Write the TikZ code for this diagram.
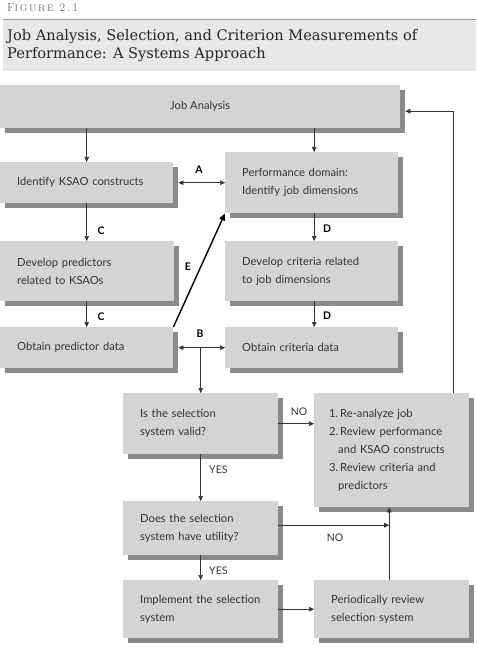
\documentclass[tikz,border=0pt]{standalone}
\usepackage{fontspec}
\newfontfamily\boxfont{Lato}
\newfontfamily\titlefont{DejaVu Serif}
\newfontfamily\figfont[LetterSpace=18]{Latin Modern Roman}
\usetikzlibrary{arrows.meta,shadows,calc}
\definecolor{boxgray}{HTML}{D4D4D4}
\definecolor{shadowgray}{HTML}{8A8A8A}
\definecolor{bandgray}{HTML}{E8E8E8}
\definecolor{linegray}{HTML}{333333}
\definecolor{figgray}{HTML}{6E6E6E}
\begin{document}
\begin{tikzpicture}[x=1pt,y=-1pt,
  box/.style={fill=boxgray, draw=none, anchor=north west, inner xsep=17pt, inner ysep=0pt,
    align=left, text=linegray, font=\boxfont\fontsize{11.2}{18}\selectfont,
    general shadow={fill=shadowgray, shadow xshift=5pt, shadow yshift=-5pt}},
  arr/.style={draw=linegray, line width=0.6pt, -{Triangle[length=5pt,width=4.5pt]}},
  darr/.style={draw=linegray, line width=0.6pt, {Triangle[length=5pt,width=4.5pt]}-{Triangle[length=5pt,width=4.5pt]}},
  lbl/.style={font=\boxfont\bfseries\fontsize{10.5}{12}\selectfont, text=black, inner sep=0pt},
  yn/.style={font=\boxfont\fontsize{10.5}{12}\selectfont, text=linegray, inner sep=0pt}
]
\useasboundingbox (0,0) rectangle (476,647);
% header
\node[anchor=base west, inner sep=0pt, text=figgray, font=\figfont] (fig) at (7,12)
  {\fontsize{11.5}{13}\selectfont F\fontsize{9.5}{13}\selectfont IGURE\fontsize{11.5}{13}\selectfont\ 2.1};
\draw[draw=figgray!70, line width=0.8pt] (3,19.5) -- (476,19.5);
\fill[bandgray] (3,20.5) rectangle (476,71);
\node[anchor=north west, inner sep=0pt, align=left, text=black!85, font=\titlefont\fontsize{14.6}{17.5}\selectfont] (title) at (7,29.5)
  {Job Analysis, Selection, and Criterion Measurements of\\Performance: A Systems Approach};
% boxes
\node[box, minimum width=400pt, minimum height=43pt, align=center] (ja) at (0,85) {Job Analysis};
\node[box, minimum width=173pt, minimum height=41pt, text width=139pt] (ksao) at (0,162) {Identify KSAO constructs};
\node[box, minimum width=173pt, minimum height=61pt, text width=139pt] (perf) at (225,152) {Performance domain:\\Identify job dimensions};
\node[box, minimum width=174pt, minimum height=60pt, text width=140pt] (devp) at (0,241) {Develop predictors\\related to KSAOs};
\node[box, minimum width=173pt, minimum height=60pt, text width=139pt] (devc) at (225,241) {Develop criteria related\\to job dimensions};
\node[box, minimum width=173pt, minimum height=41pt, text width=139pt] (obtp) at (0,327) {Obtain predictor data};
\node[box, minimum width=173pt, minimum height=41pt, text width=139pt] (obtc) at (225,327) {Obtain criteria data};
\node[box, minimum width=155pt, minimum height=61pt, text width=121pt] (valid) at (123,393) {Is the selection\\system valid?};
\node[box, minimum width=155pt, minimum height=114pt, text width=125pt, inner xsep=15pt] (fix) at (314,393)
  {1.\,Re-analyze job\\
   2.\,Review performance\\\hspace*{9pt}and KSAO constructs\\
   3.\,Review criteria and\\\hspace*{9pt}predictors};
\node[box, minimum width=155pt, minimum height=54pt, text width=121pt] (util) at (123,501) {Does the selection\\system have utility?};
\node[box, minimum width=155pt, minimum height=58pt, text width=121pt] (impl) at (123,580) {Implement the selection\\system};
\node[box, minimum width=155pt, minimum height=58pt, text width=121pt] (peri) at (314,580) {Periodically review\\selection system};
% connectors
\draw[arr] (ja.south -| ksao.north) -- (ksao.north);
\draw[arr] ([xshift=2.5pt]ja.south -| perf.north) -- ([xshift=2.5pt]perf.north);
\draw[darr] ([xshift=5pt]ksao.east) -- (ksao.east -| perf.west);
\node[lbl] (la) at (199,170) {A};
\draw[arr] (ksao.south) -- (devp.north -| ksao.south);
\node[lbl] (lc1) at (101,231) {C};
\draw[arr] (devp.south -| ksao.south) -- (obtp.north);
\node[lbl] (lc2) at (101,317) {C};
\draw[arr] ([xshift=2.5pt]perf.south) -- ([xshift=2.5pt]devc.north);
\node[lbl] (ld1) at (327,229) {D};
\draw[arr] ([xshift=2.5pt]devc.south) -- ([xshift=2.5pt]obtc.north);
\node[lbl] (ld2) at (327,316) {D};
\draw[darr] ([xshift=5pt]obtp.east) -- (obtp.east -| obtc.west);
\node[lbl] (lb) at (200,334) {B};
\coordinate (bm) at (valid.north |- obtp.east);
\draw[arr] (bm) -- (valid.north);
\draw[draw=black, line width=1.4pt, -{Triangle[length=7pt,width=6pt]}] (obtp.north east) -- (perf.south west);
\node[lbl] (le) at (188,267) {E};
\draw[arr] (valid.east) -- (valid.east -| fix.west);
\node[yn] (no1) at (299,412) {NO};
\draw[arr] (valid.south) -- (util.north);
\node[yn, anchor=west] (yes1) at (209,470) {YES};
\coordinate (vx) at ([xshift=-2.5pt]peri.north);
\draw[arr] (vx) -- (vx |- fix.south);
\draw[arr] ([yshift=3pt]util.east) -- ([yshift=3pt]util.east -| vx);
\node[yn] (no2) at (335,538) {NO};
\draw[arr] (util.south) -- (impl.north);
\node[yn, anchor=west] (yes2) at (209,571) {YES};
\draw[arr] (impl.east) -- (peri.west);
\coordinate (fb) at ($(fix.north east)+(-16,0)$);
\draw[arr] (fb) |- ([xshift=5pt,yshift=-4.5pt]ja.east);
\end{tikzpicture}
\end{document}
